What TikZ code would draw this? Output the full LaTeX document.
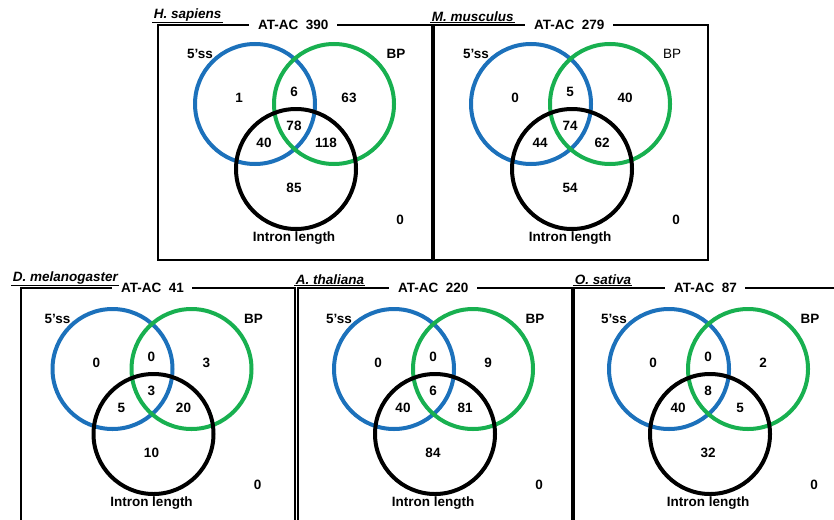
\documentclass[tikz,border=0pt]{standalone}
\usepackage{fontspec}
\setmainfont{Liberation Sans}
\usepackage{tikz}

\definecolor{vennblue}{RGB}{28,113,187}
\definecolor{venngreen}{RGB}{24,176,80}

\tikzset{
  frame/.style={line width=2pt},
  ring/.style={line width=4pt},
  cnt/.style={font=\fontsize{13.5}{15}\selectfont\bfseries,inner sep=0pt},
  hdr/.style={font=\fontsize{13.5}{15}\selectfont\bfseries,inner sep=0pt,anchor=west},
  species/.style={font=\fontsize{13.5}{15}\selectfont\bfseries\itshape,inner sep=0.6pt,anchor=south west},
}

% frame of one panel: #1 name, #2 species, #3 total, #4 shift of the species label
\newcommand{\panelframe}[4]{%
  \node[species] (#1sp) at (#4,-2.5) {#2};
  \draw[line width=1.2pt] (#1sp.south west) -- (#1sp.south east);
  \node[hdr] (#1hdr) at (100,0) {AT-AC\ \ #3};
  \draw[frame] ([xshift=-10pt]#1hdr.west) -- (0,0) -- (0,235) -- (274,235)
    -- (274,0) -- ([xshift=9pt]#1hdr.east);
}

% three circles and counts: #1 name, #2 5'ss, #3 5'ss+BP, #4 BP, #5 all,
% #6 5'ss+length, #7 BP+length, #8 length, #9 text of BP
\newcommand{\venncounts}[9]{%
  \draw[ring,vennblue] (0,0) circle[radius=60pt];
  \draw[ring,venngreen] (79,0) circle[radius=60pt];
  \draw[ring] (41,65) circle[radius=60pt];
  \node[cnt] (#1a) at (-16,-6) {#2};
  \node[cnt] (#1b) at (39,-12) {#3};
  \node[cnt] (#1c) at (94,-6) {#4};
  \node[cnt] (#1d) at (39,22) {#5};
  \node[cnt] (#1e) at (9,39) {#6};
  \node[cnt] (#1f) at (71,39) {#7};
  \node[cnt] (#1g) at (39,84) {#8};
  \node[cnt] (#1o) at (145,116) {0};
  \node[cnt] (#1il) at (39,134) {Intron length};
  \node[cnt] (#1ss) at (-55,-50) {5’ss};
  \node[cnt] (#1bp) at (141,-50) {#9};
}

\begin{document}
\begin{tikzpicture}[x=1pt,y=-1pt,line cap=rect,line join=miter]

\useasboundingbox (0,0) rectangle (834,519);
\clip (0,0) rectangle (834,519);

%---------------------------
% H. sapiens
%---------------------------
\begin{scope}[shift={(158,25)}]
  \panelframe{hs}{H. sapiens}{390}{-5}
  \begin{scope}[shift={(97,79)}]
    \venncounts{hs}{1}{6}{63}{78}{40}{118}{85}{BP}
  \end{scope}
\end{scope}

%---------------------------
% M. musculus
%---------------------------
\begin{scope}[shift={(434,25)}]
  \panelframe{mm}{M. musculus}{279}{-3}
  \begin{scope}[shift={(97,79)}]
    \venncounts{mm}{0}{5}{40}{74}{44}{62}{54}{\mdseries BP}
  \end{scope}
\end{scope}

%---------------------------
% D. melanogaster
%---------------------------
\begin{scope}[shift={(21,288)}]
  \panelframe{dm}{D. melanogaster}{41}{-9}
  \begin{scope}[shift={(91.5,81)}]
    \venncounts{dm}{0}{0}{3}{3}{5}{20}{10}{BP}
  \end{scope}
\end{scope}

%---------------------------
% A. thaliana
%---------------------------
\begin{scope}[shift={(298,288)}]
  \panelframe{at}{A. thaliana}{220}{-3}
  \begin{scope}[shift={(96,81)}]
    \venncounts{at}{0}{0}{9}{6}{40}{81}{84}{BP}
  \end{scope}
\end{scope}

%---------------------------
% O. sativa
%---------------------------
\begin{scope}[shift={(574,288)}]
  \panelframe{os}{O. sativa}{87}{0}
  \begin{scope}[shift={(95,81)}]
    \venncounts{os}{0}{0}{2}{8}{40}{5}{32}{BP}
  \end{scope}
\end{scope}

\end{tikzpicture}
\end{document}
